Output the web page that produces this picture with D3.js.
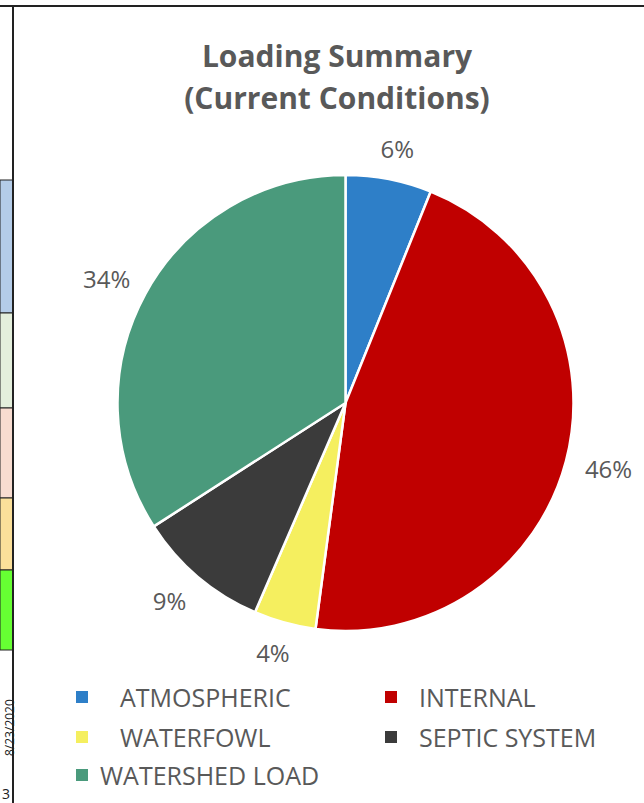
<!DOCTYPE html>
<html>
<head>
<meta charset="utf-8">
<script src="https://cdn.jsdelivr.net/npm/d3@7"></script>
<style>
  html, body { margin: 0; padding: 0; background: #fff; }
  svg { display: block; }
  text { font-family: "Open Sans", "Noto Sans", sans-serif; }
</style>
</head>
<body>
<svg id="chart" width="644" height="803"></svg>
<script>
// ---- data ----
const categories = ["ATMOSPHERIC", "INTERNAL", "WATERFOWL", "SEPTIC SYSTEM", "WATERSHED LOAD"];
const values = [6.1, 46.0, 4.4, 9.4, 34.1];
const colors = ["#2e7fc8", "#c00000", "#f5ef5f", "#3b3b3b", "#4a9a7c"];
const titleLines = ["Loading Summary", "(Current Conditions)"];

const data = categories.map((c, i) => ({ cat: c, value: values[i], color: colors[i] }));

const W = 644, H = 803;
const svg = d3.select("#chart");

// ---- surrounding spreadsheet frame (screenshot context) ----
const side = svg.append("g");
const bands = [
  { y0: 180, y1: 313, fill: "#b4cce8" },
  { y0: 313, y1: 408, fill: "#e4efdc" },
  { y0: 408, y1: 498, fill: "#f8dcd0" },
  { y0: 498, y1: 570, fill: "#fbe09a" },
  { y0: 570, y1: 650, fill: "#66ff33" }
];
side.selectAll("rect.band").data(bands).join("rect")
  .attr("x", 0).attr("width", 13)
  .attr("y", d => d.y0).attr("height", d => d.y1 - d.y0)
  .attr("fill", d => d.fill).attr("stroke", "#222").attr("stroke-width", 1);
side.append("text").attr("transform", "translate(14,756) rotate(-90)")
  .attr("font-size", 12).attr("fill", "#222").text("8/23/2020");
side.append("text").attr("x", 2).attr("y", 799).attr("font-size", 14).attr("fill", "#222").text("3");
side.append("line").attr("x1", 13).attr("x2", 13).attr("y1", 6).attr("y2", H)
  .attr("stroke", "#222").attr("stroke-width", 2);
side.append("line").attr("x1", 0).attr("x2", W).attr("y1", 6).attr("y2", 6)
  .attr("stroke", "#222").attr("stroke-width", 2);

// ---- title ----
const title = svg.append("text").attr("text-anchor", "middle")
  .attr("font-weight", "bold").attr("font-size", 30).attr("fill", "#595959");
titleLines.forEach((t, i) => {
  title.append("tspan").attr("x", 337).attr("y", 67 + i * 42).text(t);
});

// ---- pie ----
const cx = 345.5, cy = 403, R = 228;
const pie = d3.pie().value(d => d.value).sort(null);
const arcs = pie(data);
const arc = d3.arc().innerRadius(0).outerRadius(R);
const g = svg.append("g").attr("transform", `translate(${cx},${cy})`);
g.selectAll("path").data(arcs).join("path")
  .attr("d", arc)
  .attr("fill", d => d.data.color)
  .attr("stroke", "#fff").attr("stroke-width", 2.5).attr("stroke-linejoin", "round");

// labels outside end
const gap = 20, lw = 48, lh = 22;
g.selectAll("text.lbl").data(arcs).join("text")
  .attr("class", "lbl")
  .attr("text-anchor", "middle")
  .attr("dominant-baseline", "central")
  .attr("font-size", 24).attr("fill", "#595959")
  .attr("x", d => { const a = (d.startAngle + d.endAngle) / 2; return Math.sin(a) * (R + gap) + Math.sin(a) * lw / 2; })
  .attr("y", d => { const a = (d.startAngle + d.endAngle) / 2; return -Math.cos(a) * (R + gap) - Math.cos(a) * lh / 2; })
  .text(d => Math.round(d.data.value) + "%");

// ---- legend ----
const legendPos = [
  { mx: 76, tx: 120, y: 697 },
  { mx: 385, tx: 419, y: 697 },
  { mx: 76, tx: 120, y: 737 },
  { mx: 385, tx: 419, y: 737 },
  { mx: 76, tx: 100, y: 775 }
];
const leg = svg.append("g");
const items = leg.selectAll("g").data(data).join("g");
items.append("rect")
  .attr("x", (d, i) => legendPos[i].mx).attr("y", (d, i) => legendPos[i].y - 6)
  .attr("width", 12).attr("height", 12).attr("fill", d => d.color);
items.append("text")
  .attr("x", (d, i) => legendPos[i].tx).attr("y", (d, i) => legendPos[i].y)
  .attr("dominant-baseline", "central")
  .attr("font-size", 25).attr("fill", "#595959")
  .text(d => d.cat);
</script>
</body>
</html>
